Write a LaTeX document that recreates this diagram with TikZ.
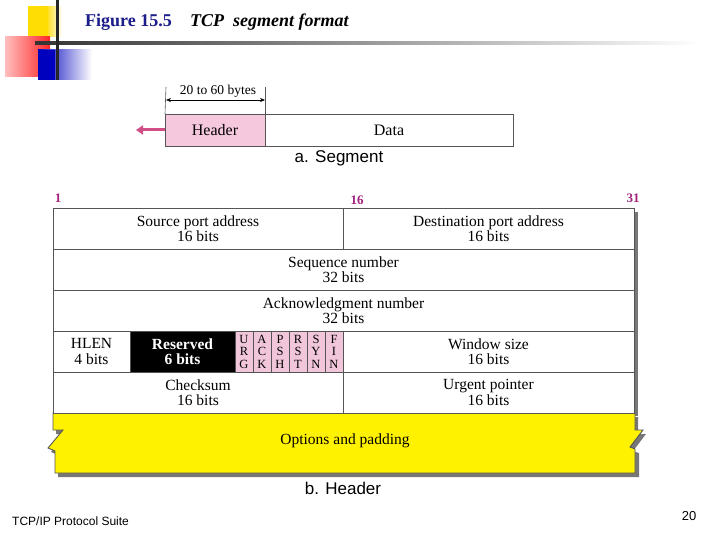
\documentclass[tikz,border=0pt]{standalone}
\usepackage{fontspec}
\setmainfont{Liberation Serif}
\newfontfamily\sansf{Liberation Sans}
\usetikzlibrary{arrows.meta}
\definecolor{hdrpink}{HTML}{F5C8DE}
\definecolor{flagpink}{HTML}{F2C6DA}
\definecolor{bitmag}{HTML}{A3207C}
\definecolor{optyel}{HTML}{FFF200}
\definecolor{navy}{HTML}{1C1C8A}
\definecolor{arrpink}{HTML}{D24E86}
\definecolor{gridgray}{HTML}{555555}
\definecolor{shad}{HTML}{777777}
\tikzset{
  cell/.style={draw=gridgray, line width=0.9pt, anchor=north west, inner sep=0pt, outer sep=0pt,
    align=center, font=\fontsize{15.5}{15.5}\selectfont, minimum height=41pt},
  flagcell/.style={cell, fill=flagpink, minimum width=18pt, font=\fontsize{12.5}{12.5}\selectfont},
  bitnum/.style={text=bitmag, font=\bfseries\fontsize{13}{15}\selectfont, inner sep=0pt},
  caption/.style={font=\sansf\fontsize{17}{19}\selectfont, inner sep=0pt}
}
\begin{document}
\begin{tikzpicture}[x=1pt,y=-1pt]
\useasboundingbox (0,0) rectangle (720,540);
% slide decoration
\shade[left color=yellow!80!orange, right color=white, middle color=yellow!70!orange] (28,7) rectangle (62,37);
\fill[yellow!80!orange] (28,7) rectangle (48,37);
\shade[left color=red!25, right color=red!85] (5,37) rectangle (50,77);
\shade[left color=blue!75!black, right color=white] (38,50) rectangle (92,80);
\fill[blue!75!black] (38,50) rectangle (55,80);
\shade[left color=black!80, right color=white] (35,41.5) rectangle (700,44.5);
\fill[black!85] (56,0) rectangle (58.5,80);
% title
\node[anchor=west, inner sep=0pt, text=navy, font=\bfseries\fontsize{18}{20}\selectfont] (figno) at (85,22) {Figure 15.5};
\node[anchor=west, inner sep=0pt, font=\bfseries\itshape\fontsize{18}{20}\selectfont] (figtitle) at (190,22) {TCP\ \ segment format};
% segment
\node[cell, fill=hdrpink, minimum width=100pt, minimum height=32pt, font=\fontsize{16}{18}\selectfont] (hdr) at (165,114) {Header};
\node[cell, minimum width=248pt, minimum height=32pt, font=\fontsize{16}{18}\selectfont] (data) at (265,114) {Data};
\coordinate (tlt) at (166,87);
\coordinate (trt) at (265,87);
\draw[gridgray, line width=0.6pt] (tlt) -- (hdr.north west);
\draw[gridgray, line width=0.6pt] (trt) -- (hdr.north east);
\coordinate (al) at (166,100);
\coordinate (ar) at (265,100);
\draw[{Stealth[length=5pt,width=4pt]}-{Stealth[length=5pt,width=4pt]}, line width=0.6pt] (al) -- (ar);
\node[inner sep=0pt, font=\fontsize{13.5}{15}\selectfont] (bytes) at (218,91) {20 to 60 bytes};
\coordinate (pinkend) at (136,130);
\draw[arrpink, line width=3pt, -{Triangle[length=7pt,width=9pt]}] (hdr.west) -- (pinkend);
\node[caption] (capa) at (339,158) {a. Segment};
% bit numbers
\node[bitnum] (b1) at (58,198) {1};
\node[bitnum] (b16) at (357,200) {16};
\node[bitnum] (b31) at (633,198) {31};
% shadows
\fill[shad] (57,212) rectangle (638,416);
\fill[shad] (56,417) -- (638,417) -- (638,434) -- (646,434) -- (633,451) -- (639,453) -- (639,477) -- (58,477) -- (58,455) -- (51,452) -- (66,434) -- (56,434) -- cycle;
% options
\filldraw[fill=optyel, draw=gridgray, line width=0.9pt] (53,413) -- (635,413) -- (635,430) -- (643,430) -- (630,447) -- (635,449) -- (635,473) -- (55,473) -- (55,451) -- (48,448) -- (63,430) -- (53,430) -- cycle;
\node[inner sep=0pt, font=\fontsize{15.5}{17}\selectfont] (opts) at (345,441) {Options and padding};
% rows
\node[cell, fill=white, minimum width=290pt] (src) at (53,208) {Source port address\\16 bits};
\node[cell, fill=white, minimum width=291pt] (dst) at (343,208) {Destination port address\\16 bits};
\node[cell, fill=white, minimum width=581pt] (seq) at (53,249) {Sequence number\\32 bits};
\node[cell, fill=white, minimum width=581pt] (ack) at (53,290) {Acknowledgment number\\32 bits};
\node[cell, fill=white, minimum width=77pt] (hlen) at (53,331) {HLEN\\4 bits};
\node[cell, fill=black, text=white, minimum width=105pt, font=\bfseries\fontsize{15.5}{15.5}\selectfont] (res) at (130,331) {Reserved\\6 bits};
\node[flagcell] (urg) at (235,331) {U\\R\\G};
\node[flagcell] (ackf) at (253,331) {A\\C\\K};
\node[flagcell] (psh) at (271,331) {P\\S\\H};
\node[flagcell] (rst) at (289,331) {R\\S\\T};
\node[flagcell] (syn) at (307,331) {S\\Y\\N};
\node[flagcell] (fin) at (325,331) {F\\I\\N};
\node[cell, fill=white, minimum width=291pt] (win) at (343,331) {Window size\\16 bits};
\node[cell, fill=white, minimum width=290pt] (chk) at (53,372) {Checksum\\16 bits};
\node[cell, fill=white, minimum width=291pt] (urp) at (343,372) {Urgent pointer\\16 bits};
\node[caption] (capb) at (343,488) {b. Header};
% footer
\node[anchor=west, inner sep=0pt, font=\sansf\fontsize{12}{14}\selectfont] (foot) at (12,521) {TCP/IP Protocol Suite};
\node[inner sep=0pt, font=\sansf\fontsize{13}{15}\selectfont] (page) at (689,516) {20};
\end{tikzpicture}
\end{document}
